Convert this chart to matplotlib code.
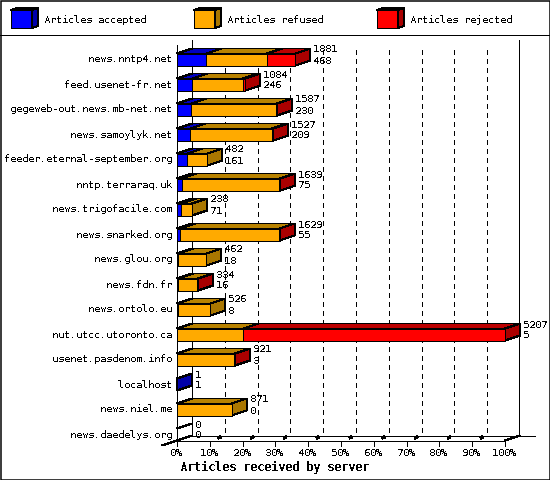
import matplotlib
matplotlib.use("Agg")
import matplotlib.pyplot as plt
from matplotlib.patches import Polygon, Rectangle

plt.rcParams['font.family'] = ['DejaVu Sans Mono']
plt.rcParams['text.antialiased'] = False
plt.rcParams['text.hinting'] = 'native'
plt.rcParams['text.hinting_factor'] = 1

servers = ['news.nntp4.net', 'feed.usenet-fr.net', 'gegeweb-out.news.mb-net.net',
           'news.samoylyk.net', 'feeder.eternal-september.org', 'nntp.terraraq.uk',
           'news.trigofacile.com', 'news.snarked.org', 'news.glou.org', 'news.fdn.fr',
           'news.ortolo.eu', 'nut.utcc.utoronto.ca', 'usenet.pasdenom.info',
           'localhost', 'news.niel.me', 'news.daedelys.org']
accepted = [468, 246, 230, 209, 161, 75, 71, 55, 18, 16, 8, 5, 3, 1, 0, 0]
refused = [962, 797, 1345, 1300, 321, 1556, 167, 1568, 444, 312, 518, 1048, 905, 0, 871, 0]
rejected = [451, 41, 12, 18, 0, 8, 0, 6, 0, 6, 0, 4154, 13, 0, 0, 0]
totals = [1881, 1084, 1587, 1527, 482, 1639, 238, 1629, 462, 334, 526, 5207, 921, 1, 871, 0]
pct_ticks = [0, 10, 20, 30, 40, 50, 60, 70, 80, 90, 100]

BLUE = ('#0000ff', '#0000aa', '#0000c0')
ORANGE = ('#ffaa00', '#aa7700', '#b88200')
RED = ('#ff0000', '#aa0000', '#bb0000')

# pixel layout of the chart
X0, X100 = 177.0, 505.0
Y_FIRST, ROW_H = 59.5, 25.0
BAR_H, DX, DY = 12.0, 15.0, 5.0
MAXV = max(totals)
PX = 0.72  # one pixel in points at 100 dpi

fig = plt.figure(figsize=(5.5, 4.8), dpi=100)
ax = fig.add_axes([0, 0, 1, 1])
ax.set_xlim(0, 550)
ax.set_ylim(480, 0)
ax.axis('off')


def xpos(v):
    return X0 + v / MAXV * (X100 - X0)


def ypos(i):
    return Y_FIRST + i * ROW_H


def line(xs, ys, **kw):
    kw.setdefault('color', 'black')
    kw.setdefault('lw', PX)
    ax.plot(xs, ys, antialiased=False, solid_capstyle='butt', dash_capstyle='butt', **kw)


def poly(pts, fc, z=3):
    ax.add_patch(Polygon(pts, closed=True, fc=fc, ec='black', lw=PX, antialiased=False, zorder=z))


def box(x1, x2, yc, cols, side=False, z=3):
    top, bot = yc - BAR_H / 2, yc + BAR_H / 2
    poly([(x1, top), (x1 + DX, top - DY), (x2 + DX, top - DY), (x2, top)], cols[2], z)
    if side:
        poly([(x2, top), (x2 + DX, top - DY), (x2 + DX, bot - DY), (x2, bot)], cols[1], z)
    if x2 > x1:
        poly([(x1, top), (x2, top), (x2, bot), (x1, bot)], cols[0], z)


# outer frame and legend band
ax.add_patch(Rectangle((0.5, 0.5), 549, 479, fc='white', ec='black', lw=PX * 1.5, zorder=0))
line([0, 550], [35, 35])
for lx, cols, name in [(11, BLUE, 'Articles accepted'), (194, ORANGE, 'Articles refused'),
                       (377, RED, 'Articles rejected')]:
    poly([(lx, 10), (lx + 21, 10), (lx + 21, 28), (lx, 28)], cols[0], 4)
    poly([(lx, 10), (lx + 6, 8), (lx + 27, 8), (lx + 21, 10)], cols[1], 4)
    poly([(lx + 21, 10), (lx + 27, 8), (lx + 27, 26), (lx + 21, 28)], cols[1], 4)
    ax.text(lx + 33, 20, name, fontsize=7.2, va='center', ha='left')

# walls and grid
base_y = ypos(15) + BAR_H / 2
line([X0, X0], [45, base_y], zorder=2)
line([X0 + DX, X0 + DX], [40, base_y - DY], zorder=2)
line([X100 + DX - 1, X100 + DX - 1], [40, base_y - DY], zorder=2)
line([X0 + DX, 535], [base_y - DY, base_y - DY], zorder=2)
line([X0, X100], [base_y, base_y], zorder=2)
line([X0 - DX, X0 + DX], [base_y + DY, base_y - DY], zorder=2)
for p in pct_ticks:
    xt = X0 + p / 100 * (X100 - X0)
    line([xt, xt], [base_y, base_y + 5], zorder=2)
    ax.text(xt - 1, base_y + 13, f'{p}%', fontsize=7.2, ha='center', va='center')
    if 0 < p < 100:
        line([xt + DX, xt + DX], [50, base_y - DY], ls=(0, (5, 5)), lw=PX, zorder=1)
        line([xt + 8, xt + 11], [base_y - 2.5, base_y - 3.7], lw=PX * 2.5, zorder=2)
    elif p == 100:
        line([xt, xt + DX], [base_y, base_y - DY], zorder=2)
ax.text(274, 467, 'Articles received by server', fontsize=8.3, fontweight='bold', ha='center', va='center')

for i, name in enumerate(servers):
    yc = ypos(i)
    ax.text(172, yc, name, fontsize=7.2, ha='right', va='center')
    x_a = xpos(accepted[i])
    x_r = xpos(accepted[i] + refused[i])
    x_j = xpos(accepted[i] + refused[i] + rejected[i])
    if totals[i] == 0:
        line([X0, X0 + DX], [yc - BAR_H / 2, yc - BAR_H / 2 - DY], zorder=3)
    if accepted[i] > 0:
        last = refused[i] == 0 and rejected[i] == 0
        box(X0, x_a, yc, BLUE, side=last)
    if refused[i] > 0:
        box(x_a, x_r, yc, ORANGE, side=rejected[i] == 0)
    if rejected[i] > 0:
        box(x_r, x_j, yc, RED, side=True)
    lx = x_j + DX + 3
    ax.text(lx, yc - 10, str(totals[i]), fontsize=7.2, ha='left', va='center', zorder=5)
    ax.text(lx, yc + 1, str(accepted[i]), fontsize=7.2, ha='left', va='center', zorder=5)

fig.savefig('out.png', dpi=100)
